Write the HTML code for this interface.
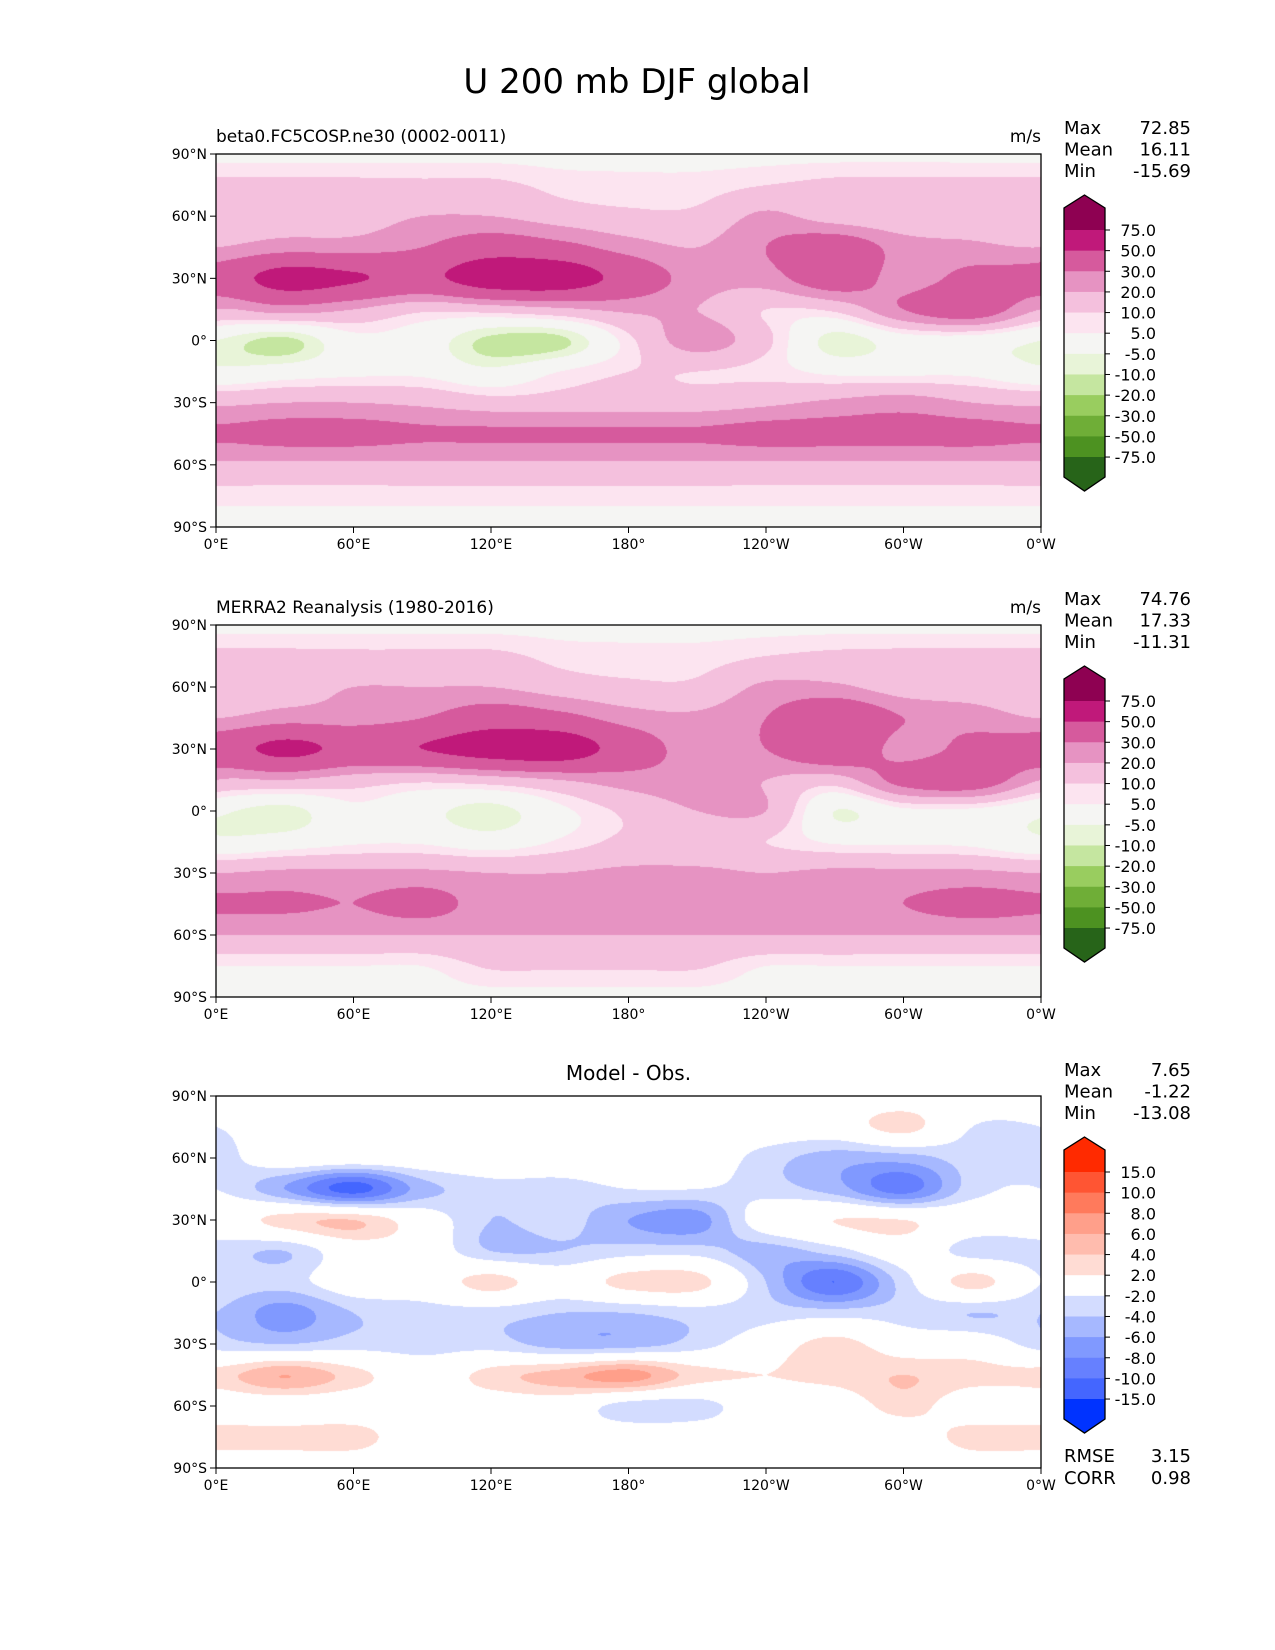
<!DOCTYPE html>
<html><head><meta charset="utf-8"><style>
body{margin:0;background:#fff;}
#wrap{position:relative;width:1275px;height:1650px;font-family:"DejaVu Sans","Liberation Sans",sans-serif;}
canvas{position:absolute;}
svg{position:absolute;left:0;top:0;}
</style></head><body>
<div id="wrap">
<canvas id="c1" style="left:216px;top:154px" width="825" height="373"></canvas>
<canvas id="c2" style="left:216px;top:625px" width="825" height="372"></canvas>
<canvas id="c3" style="left:216px;top:1096px" width="825" height="372"></canvas>
<svg id="s" width="1275" height="1650"></svg>
</div>
<script>
const lats=[90,75,60,45,30,15,0,-15,-30,-45,-60,-75,-90];
const lons=[0,30,60,90,120,150,180,210,240,270,300,330];
const modelField=[
[3,3,3,3,3,3,3,3,3,3,3,3],
[12,12,12,12,12,8,7,7,10,12,12,12],
[15,15,15,20,20,15,12,12,22,15,12,15],
[20,25,25,30,40,35,25,20,30,40,25,22],
[38,58,52,45,62,62,42,25,25,40,25,35],
[20,25,20,12,14,18,22,20,10,12,30,40],
[-5,-12,2,0,-12,-12,8,25,12,-8,0,0],
[-3,0,3,3,-3,5,10,10,8,3,3,3],
[18,20,20,18,14,14,15,15,18,22,25,20],
[32,35,35,32,32,32,32,32,35,35,35,35],
[18,18,18,18,18,18,18,18,18,18,18,18],
[7,7,7,7,7,7,7,7,7,7,7,7],
[3,3,3,3,3,3,3,3,3,3,3,3]];
const obsField=[
[3,3,3,3,3,3,3,3,3,3,3,3],
[12,12,12,12,12,8,7,7,10,12,12,12],
[15,15,20,20,20,15,12,12,22,22,15,15],
[20,25,25,30,40,35,25,22,30,45,30,25],
[40,55,45,50,60,62,40,25,30,45,25,35],
[20,20,15,12,15,20,25,25,20,15,35,40],
[-3,-8,3,-2,-8,3,12,20,20,-5,3,3],
[-3,0,4,4,0,6,12,12,10,4,4,3],
[20,22,22,22,20,20,22,22,20,22,22,22],
[32,32,30,35,25,25,25,25,25,25,30,35],
[20,20,20,20,20,20,20,20,20,20,20,20],
[5,5,5,5,11,11,11,11,5,5,5,5],
[3,3,3,3,3,3,3,3,3,3,3,3]];
const diffField=[
[0,0,0,0,0,0,0,0,0,0,0,0],
[-2,0,0,0,0,0,0,0,0,0,3,-2],
[-3,0,0,0,0,0,0,0,-3,-5,-5,-3],
[-2,-6,-11,-5,-3,-3,-2,-2,-3,-5,-9,-3],
[0,3,4,0,-4,-3,-6,-7,0,2,2,0],
[-3,-4,0,0,-4,-4,-3,-3,-5,-3,0,-3],
[-2,-3,0,0,3,0,3,3,-4,-10,-3,3],
[-4,-7,-4,-3,-3,-4,-4,-3,-3,-3,-3,-4],
[-3,-4,-3,-3,-3,-5,-5,-3,0,3,0,0],
[3,6,3,0,3,5,7,3,2,3,4,3],
[0,0,0,0,0,0,-3,-3,0,0,3,0],
[3,3,3,0,0,0,0,0,0,0,0,3],
[0,0,0,0,0,0,0,0,0,0,0,0]];
const pinkLevels=[-75,-50,-30,-20,-10,-5,5,10,20,30,50,75];
const pinkColors=["#276419","#4d9221","#6fae37","#99cd5f","#c5e6a0","#e8f4d8","#f5f5f3","#fce4f0","#f4c0dd","#e693c2","#d65a9d","#c0197a","#8e0152"];
const diffLevels=[-15,-10,-8,-6,-4,-2,2,4,6,8,10,15];
const diffColors=["#0033ff","#4466ff","#6680ff","#8099ff","#a6b8ff","#d3dcff","#ffffff","#ffdcd4","#ffbcae","#ff9f8a","#ff7a5c","#ff5533","#ff2a00"];
const latTicks=["90°N","60°N","30°N","0°","30°S","60°S","90°S"];
const lonTicks=["0°E","60°E","120°E","180°","120°W","60°W","0°W"];

function cr(p0,p1,p2,p3,t){return 0.5*((2*p1)+(-p0+p2)*t+(2*p0-5*p1+4*p2-p3)*t*t+(-p0+3*p1-3*p2+p3)*t*t*t);}
function sample(g,lat,lon){
  const fy=(90-lat)/15, fx=(((lon%360)+360)%360)/30;
  const iy=Math.floor(fy), ix=Math.floor(fx), ty=fy-iy, tx=fx-ix;
  const row=r=>{r=Math.max(0,Math.min(12,r));const R=g[r];const a=k=>R[((ix+k)%12+12)%12];return cr(a(-1),a(0),a(1),a(2),tx);};
  return cr(row(iy-1),row(iy),row(iy+1),row(iy+2),ty);
}
function cls(v,lv){let i=0;while(i<lv.length&&v>=lv[i])i++;return i;}
function drawField(id,g,lv,cols){
  const c=document.getElementById(id),ctx=c.getContext('2d'),W=c.width,H=c.height;
  const img=ctx.createImageData(W,H);
  const rgb=cols.map(h=>[parseInt(h.substr(1,2),16),parseInt(h.substr(3,2),16),parseInt(h.substr(5,2),16)]);
  for(let y=0;y<H;y++){const lat=90-180*(y+0.5)/H;
    for(let x=0;x<W;x++){const lon=360*(x+0.5)/W;
      const k=rgb[cls(sample(g,lat,lon),lv)];const o=(y*W+x)*4;
      img.data[o]=k[0];img.data[o+1]=k[1];img.data[o+2]=k[2];img.data[o+3]=255;}}
  ctx.putImageData(img,0,0);
}
drawField('c1',modelField,pinkLevels,pinkColors);
drawField('c2',obsField,pinkLevels,pinkColors);
drawField('c3',diffField,diffLevels,diffColors);

const S=document.getElementById('s'),NS='http://www.w3.org/2000/svg';
function el(t,a,txt){const e=document.createElementNS(NS,t);for(const k in a)e.setAttribute(k,a[k]);if(txt!==undefined)e.textContent=txt;S.appendChild(e);return e;}
let e=el('text',{x:637,y:93,'font-size':34,'text-anchor':'middle'},'U 200 mb DJF global');



const panels=[
 {top:154,bot:527,title:'beta0.FC5COSP.ne30 (0002-0011)',left:true,stats:['72.85','16.11','-15.69'],lv:pinkLevels,cols:pinkColors,lab:['75.0','50.0','30.0','20.0','10.0','5.0','-5.0','-10.0','-20.0','-30.0','-50.0','-75.0'],off:0,name:'model'},
 {top:625,bot:997,title:'MERRA2 Reanalysis (1980-2016)',left:true,stats:['74.76','17.33','-11.31'],lv:pinkLevels,cols:pinkColors,lab:['75.0','50.0','30.0','20.0','10.0','5.0','-5.0','-10.0','-20.0','-30.0','-50.0','-75.0'],off:471,name:'obs'},
 {top:1096,bot:1468,title:'Model - Obs.',left:false,stats:['7.65','-1.22','-13.08'],lv:diffLevels,cols:diffColors,lab:['15.0','10.0','8.0','6.0','4.0','2.0','-2.0','-4.0','-6.0','-8.0','-10.0','-15.0'],off:942,name:'diff'}];
const L=216,R=1041;
panels.forEach(p=>{
  e=el('rect',{x:L,y:p.top,width:R-L,height:p.bot-p.top,fill:'none',stroke:'#000','stroke-width':1.3});
  
  
  if(p.left){e=el('text',{x:L,y:p.top-12,'font-size':17},p.title);
   const e2=el('text',{x:R,y:p.top-12,'font-size':17,'text-anchor':'end'},'m/s');
   
   }
  else e=el('text',{x:(L+R)/2,y:p.top-16,'font-size':20,'text-anchor':'middle'},p.title);
  
  
  latTicks.forEach((t,i)=>{const y=p.top+(p.bot-p.top)*i/6;
    el('line',{x1:L-6,x2:L,y1:y,y2:y,stroke:'#000'});
    e=el('text',{x:L-9,y:y+5,'font-size':14,'text-anchor':'end'},t);
    
    });
  lonTicks.forEach((t,i)=>{const x=L+(R-L)*i/6;
    el('line',{x1:x,x2:x,y1:p.bot,y2:p.bot+6,stroke:'#000'});
    e=el('text',{x:x,y:p.bot+22,'font-size':14,'text-anchor':'middle'},t);
    
    });
  ['Max','Mean','Min'].forEach((k,i)=>{const y=p.top-20+i*21.5;
    e=el('text',{x:1064,y:y,'font-size':18},k);
    
    
    e=el('text',{x:1191,y:y,'font-size':18,'text-anchor':'end'},p.stats[i]);
    
    });
  const o=p.off,x0=1064,x1=1105,xm=(x0+x1)/2,b0=230+o,db=20.64,n=p.lv.length,bN=b0+db*(n-1);
  const top=195+o,sh=208+o,sh2=bN+20,bot=bN+34;
  const g=el('g',{});
  
  
  const cols=p.cols.slice().reverse();
  const mk=(t,a)=>{const q=document.createElementNS(NS,t);for(const k in a)q.setAttribute(k,a[k]);g.appendChild(q);return q;};
  mk('polygon',{points:`${xm},${top} ${x1},${sh} ${x1},${b0} ${x0},${b0} ${x0},${sh}`,fill:cols[0]});
  for(let i=0;i<n-1;i++)mk('rect',{x:x0,y:b0+db*i,width:x1-x0,height:db+0.5,fill:cols[i+1]});
  mk('polygon',{points:`${x0},${bN} ${x1},${bN} ${x1},${sh2} ${xm},${bot} ${x0},${sh2}`,fill:cols[n]});
  mk('polygon',{points:`${xm},${top} ${x1},${sh} ${x1},${sh2} ${xm},${bot} ${x0},${sh2} ${x0},${sh}`,fill:'none',stroke:'#000','stroke-width':1.3});
  p.lab.forEach((t,i)=>{const y=b0+db*i;
    el('line',{x1:x1,x2:x1+5,y1:y,y2:y,stroke:'#000'});
    e=el('text',{x:1156,y:y+6,'font-size':16,'text-anchor':'end'},t);
    
    });
});
[['RMSE','3.15',1462],['CORR','0.98',1484]].forEach(r=>{
  e=el('text',{x:1064,y:r[2],'font-size':18},r[0]);
  
  
  e=el('text',{x:1191,y:r[2],'font-size':18,'text-anchor':'end'},r[1]);
  
  });
</script>
</body></html>
